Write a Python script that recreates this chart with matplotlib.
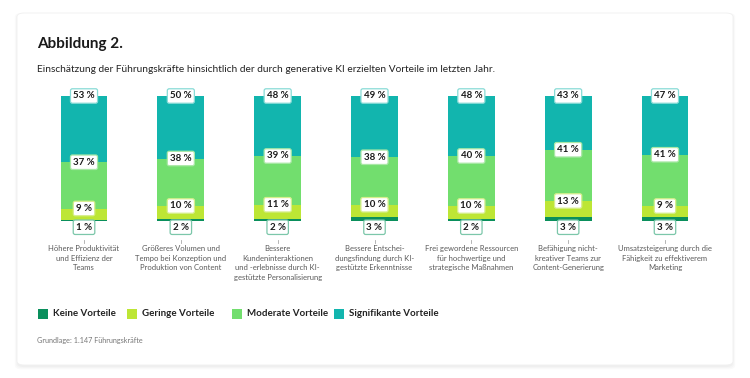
import matplotlib
matplotlib.use("Agg")
import matplotlib.pyplot as plt
from matplotlib.patches import FancyBboxPatch, Rectangle
import numpy as np

plt.rcParams['font.family'] = ['Lato', 'DejaVu Sans']

kategorien = ["Höhere Produktivität\nund Effizienz der\nTeams",
              "Größeres Volumen und\nTempo bei Konzeption und\nProduktion von Content",
              "Bessere\nKundeninteraktionen\nund -erlebnisse durch KI-\ngestützte Personalisierung",
              "Bessere Entschei-\ndungsfindung durch KI-\ngestützte Erkenntnisse",
              "Frei gewordene Ressourcen\nfür hochwertige und\nstrategische Maßnahmen",
              "Befähigung nicht-\nkreativer Teams zur\nContent-Generierung",
              "Umsatzsteigerung durch die\nFähigkeit zu effektiverem\nMarketing"]
keine = [1, 2, 2, 3, 2, 3, 3]
geringe = [9, 10, 11, 10, 10, 13, 9]
moderate = [37, 38, 39, 38, 40, 41, 41]
signifikant = [53, 50, 48, 49, 48, 43, 47]

serien = ["Keine Vorteile", "Geringe Vorteile", "Moderate Vorteile", "Signifikante Vorteile"]
farben = ["#0a8f5c", "#bde635", "#72de6e", "#12b5ae"]
rahmen = ["#7cc7aa", "#d6ee8c", "#a9e8a6", "#88dbd6"]

W, H = 750, 378
fig = plt.figure(figsize=(W / 100, H / 100), dpi=100)
fig.patch.set_facecolor("white")

# card with faint shadow
for i, a in enumerate([0.025, 0.02, 0.02]):
    fig.patches.append(FancyBboxPatch((17 / W - i * 0.0015, (378 - 366) / H - i * 0.003 - 0.003),
                                      716 / W + 2 * i * 0.0015, 352 / H + 2 * i * 0.003,
                                      boxstyle="round,pad=0,rounding_size=0.01",
                                      transform=fig.transFigure, facecolor="black",
                                      edgecolor="none", alpha=a, zorder=0))
fig.patches.append(FancyBboxPatch((17 / W, (378 - 365) / H), 716 / W, 352 / H,
                                  boxstyle="round,pad=0,rounding_size=0.01",
                                  transform=fig.transFigure, facecolor="white",
                                  edgecolor="#f0f0f0", lw=0.6, zorder=1))

fig.text(37 / W, 1 - 44 / H, "Abbildung 2.", fontsize=11, fontweight="bold",
         color="#1a1a1a", va="center", ha="left")
fig.text(37 / W, 1 - 70 / H,
         "Einschätzung der Führungskräfte hinsichtlich der durch generative KI erzielten Vorteile im letzten Jahr.",
         fontsize=7.25, color="#222222", va="center", ha="left")

# bar axes: x index -> pixel 84 + 96.83*i, y 0..100 -> pixel 221..96
ax = fig.add_axes([35.6 / W, (378 - 221) / H, 677.8 / W, 125 / H])
ax.set_xlim(-0.5, 6.5)
ax.set_ylim(0, 100)
ax.axis("off")
ax.set_zorder(5)

x = np.arange(len(kategorien))
daten = [keine, geringe, moderate, signifikant]
bw = 0.485
unten = np.zeros(len(x))
for werte, f in zip(daten, farben):
    ax.bar(x, werte, bottom=unten, width=bw, color=f, edgecolor="none", zorder=2)
    unten = unten + np.array(werte)

def label(xx, yy, txt, ec):
    ax.text(xx, yy, txt, ha="center", va="center", fontsize=7, fontweight="bold",
            color="#1a1a1a", zorder=6, clip_on=False,
            bbox=dict(boxstyle="round,pad=0.28,rounding_size=0.2", fc="white", ec=ec, lw=0.9))

for i in x:
    # Keine below the bar
    label(i, -5, f"{keine[i]} %", rahmen[0])
    oben = keine[i]
    for werte, ec in zip(daten[1:], rahmen[1:]):
        oben += werte[i]
        label(i, oben, f"{werte[i]} %", ec)
    ax.plot([i, i], [-15.5, -17.5], color="#aaaaaa", lw=0.6, clip_on=False)
    ax.text(i, -19.5, kategorien[i], ha="center", va="top", fontsize=5.5,
            color="#5a5a5a", linespacing=1.4, clip_on=False)

# legend
leg_x = [38, 127, 232, 334]
for lx, name, f in zip(leg_x, serien, farben):
    fig.patches.append(Rectangle((lx / W, 1 - 319 / H), 10 / W, 10 / H,
                                 transform=fig.transFigure, facecolor=f,
                                 edgecolor="none", zorder=3))
    fig.text((lx + 15) / W, 1 - 314 / H, name, fontsize=7.0, fontweight="bold",
             color="#222222", va="center", ha="left")

fig.text(37 / W, 1 - 341 / H, "Grundlage: 1.147 Führungskräfte", fontsize=5.2,
         color="#777777", va="center", ha="left")

fig.savefig("out.png", dpi=100)
